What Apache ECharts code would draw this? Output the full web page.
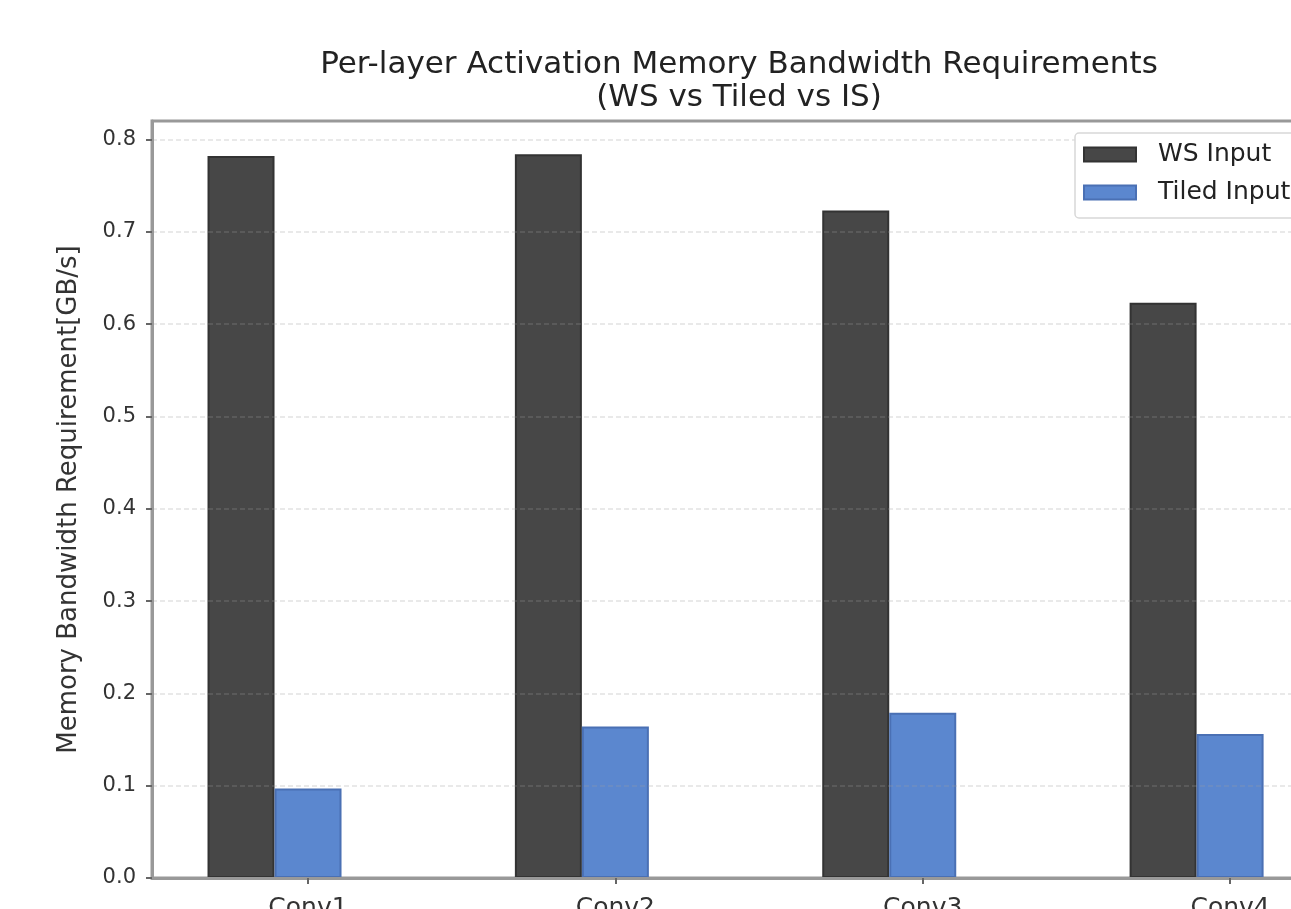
<!DOCTYPE html>
<html>
<head>
<meta charset="utf-8">
<script src="https://cdn.jsdelivr.net/npm/echarts@6/dist/echarts.min.js"></script>
<style>
html,body{margin:0;padding:0;overflow:hidden;background:#fff;}
#chart{width:1400px;height:960px;}
</style>
</head>
<body>
<div id="chart"></div>
<script>
const categories = ['Conv1', 'Conv2', 'Conv3', 'Conv4'];
const seriesNames = ['WS Input', 'Tiled Input', 'IS Input'];
const wsInput = [0.782, 0.784, 0.723, 0.623];
const tiledInput = [0.097, 0.164, 0.179, 0.156];
const isInput = [];
const yTicks = [0, 0.1, 0.2, 0.3, 0.4, 0.5, 0.6, 0.7, 0.8];
const titleText = 'Per-layer Activation Memory Bandwidth Requirements\n(WS vs Tiled vs IS)';
const yName = 'Memory Bandwidth Requirement[GB/s]';

const catIdx = categories.map((c, i) => i);
const toPairs = arr => arr.map((v, i) => [i, v]);

const chart = echarts.init(document.getElementById('chart'), null, {renderer: 'canvas'});
chart.setOption({
  animation: false,
  backgroundColor: '#fff',
  title: {
    text: titleText,
    left: 734, top: 43, textAlign: 'center',
    textStyle: {fontFamily: 'DejaVu Sans', fontSize: 31, fontWeight: 'normal', color: '#222', lineHeight: 33}
  },
  legend: {
    data: ['WS Input', 'Tiled Input'],
    orient: 'vertical',
    left: 1075, top: 133,
    itemWidth: 52, itemHeight: 14, itemGap: 13,
    padding: [9, 60, 13, 8],
    backgroundColor: '#fff',
    borderColor: '#d8d8d8', borderWidth: 1.5, borderRadius: 4,
    textStyle: {fontFamily: 'DejaVu Sans', fontSize: 25, color: '#222', padding: [0, 0, 0, 17]},
    icon: 'rect'
  },
  grid: {
    left: 152, top: 121, right: 82, bottom: 82,
    show: true, borderColor: '#999', borderWidth: 3, backgroundColor: 'transparent'
  },
  xAxis: {
    type: 'value', z: 3,
    min: -0.5076, max: 3.286,
    axisLine: {show: true, onZero: false, lineStyle: {color: '#999', width: 3}},
    axisTick: {show: true, customValues: catIdx, length: 6, lineStyle: {color: '#666', width: 2}},
    axisLabel: {
      customValues: catIdx,
      formatter: v => categories[Math.round(v)] || '',
      fontFamily: 'DejaVu Sans', fontSize: 25, color: '#333', margin: 18
    },
    splitLine: {show: false}
  },
  yAxis: {
    type: 'value', z: 3,
    min: 0, max: 0.82, interval: 0.1,
    name: yName, nameLocation: 'middle', nameGap: 70,
    nameTextStyle: {fontFamily: 'DejaVu Sans', fontSize: 26, color: '#333'},
    axisLine: {show: true, onZero: false, lineStyle: {color: '#999', width: 3}},
    axisTick: {show: true, length: 6, lineStyle: {color: '#666', width: 2}},
    axisLabel: {
      showMaxLabel: false,
      formatter: v => yTicks.some(t => Math.abs(t - v) < 1e-9) ? v.toFixed(1) : '',
      fontFamily: 'DejaVu Sans', fontSize: 21, color: '#333', margin: 16
    },
    splitLine: {show: true, showMaxLine: false, lineStyle: {color: 'rgba(160,160,160,0.3)', width: 1.5, type: [5, 3]}}
  },
  series: [
    {
      name: seriesNames[0], type: 'bar', data: toPairs(wsInput),
      barWidth: 67, barGap: '0%',
      itemStyle: {color: '#474747', borderColor: '#333', borderWidth: 2}
    },
    {
      name: seriesNames[1], type: 'bar', data: toPairs(tiledInput),
      barWidth: 67, barGap: '0%',
      itemStyle: {color: '#5b87cf', borderColor: '#4a70b4', borderWidth: 2}
    },
    {
      name: seriesNames[2], type: 'bar', data: toPairs(isInput),
      barWidth: 67, barGap: '0%',
      itemStyle: {color: '#888'}
    }
  ]
});
</script>
</body>
</html>
